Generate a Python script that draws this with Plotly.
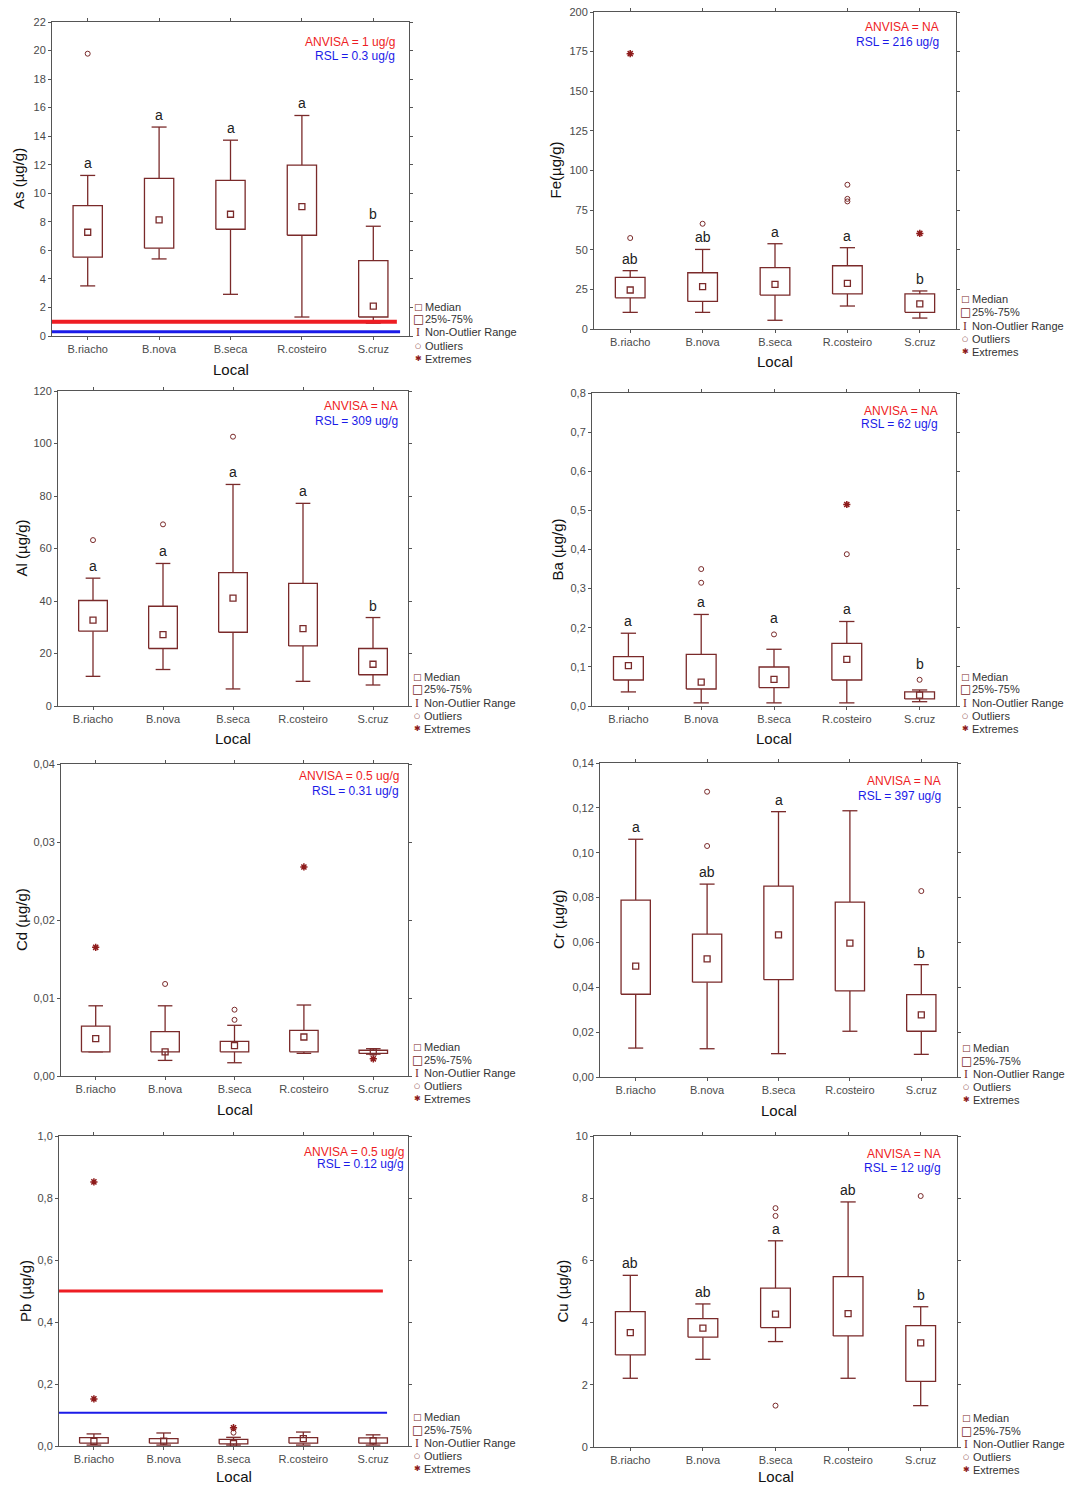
import plotly.graph_objects as go

W, H = 1067, 1486
FONT = "Arial, 'Liberation Sans', sans-serif"
BOX_COLOR = "#7a2a2a"
EXT_COLOR = "#8e1b1b"
FRAME = "#555555"
TICK = "#4a4a4a"
RED = "#ee1d23"
BLUE = "#1b1be8"

CATEGORIES = ["B.riacho", "B.nova", "B.seca", "R.costeiro", "S.cruz"]

# ---------------- As ----------------
AS_Q1 = [5.52, 6.15, 7.48, 7.06, 1.33]
AS_MEDIAN = [7.27, 8.14, 8.53, 9.07, 2.10]
AS_Q3 = [9.14, 11.04, 10.90, 11.97, 5.28]
AS_LOW = [3.51, 5.40, 2.92, 1.33, 0.9]
AS_HIGH = [11.25, 14.64, 13.72, 15.45, 7.69]
AS_OUTLIERS = [[19.78], [], [], [], []]
AS_EXTREMES = [[], [], [], [], []]
AS_LETTERS = ["a", "a", "a", "a", "b"]
AS_LIMITS = [1.0, 0.3]
AS_LIMIT_TEXT = ["ANVISA = 1 ug/g", "RSL = 0.3 ug/g"]

# ---------------- Fe ----------------
FE_Q1 = [19.7, 17.4, 21.4, 22.1, 10.5]
FE_MEDIAN = [24.6, 26.7, 28.2, 28.8, 15.8]
FE_Q3 = [32.6, 35.5, 38.7, 39.9, 22.1]
FE_LOW = [10.5, 10.5, 5.5, 14.5, 6.9]
FE_HIGH = [36.8, 50.2, 53.8, 51.3, 24.0]
FE_OUTLIERS = [[57.4], [66.4], [], [80.5, 82.1, 91.0], []]
FE_EXTREMES = [[173.7], [], [], [], [60.3]]
FE_LETTERS = ["ab", "ab", "a", "a", "b"]
FE_LIMIT_TEXT = ["ANVISA = NA", "RSL = 216 ug/g"]

# ---------------- Al ----------------
AL_Q1 = [28.5, 21.9, 28.1, 22.9, 11.9]
AL_MEDIAN = [32.7, 27.2, 41.1, 29.5, 15.9]
AL_Q3 = [40.2, 38.0, 50.8, 46.7, 21.9]
AL_LOW = [11.3, 13.9, 6.5, 9.4, 8.0]
AL_HIGH = [48.7, 54.3, 84.4, 77.2, 33.7]
AL_OUTLIERS = [[63.2], [69.2], [102.6], [], []]
AL_EXTREMES = [[], [], [], [], []]
AL_LETTERS = ["a", "a", "a", "a", "b"]
AL_LIMIT_TEXT = ["ANVISA = NA", "RSL = 309 ug/g"]

# ---------------- Ba ----------------
BA_Q1 = [0.0665, 0.0435, 0.047, 0.0665, 0.018]
BA_MEDIAN = [0.103, 0.061, 0.068, 0.119, 0.028]
BA_Q3 = [0.126, 0.132, 0.0997, 0.160, 0.036]
BA_LOW = [0.036, 0.008, 0.008, 0.008, 0.011]
BA_HIGH = [0.186, 0.234, 0.145, 0.216, 0.041]
BA_OUTLIERS = [[], [0.315, 0.350], [0.183], [0.388], [0.067]]
BA_EXTREMES = [[], [], [], [0.515], []]
BA_LETTERS = ["a", "a", "a", "a", "b"]
BA_LIMIT_TEXT = ["ANVISA = NA", "RSL = 62 ug/g"]

# ---------------- Cd ----------------
CD_Q1 = [0.0031, 0.0031, 0.0031, 0.0031, 0.0029]
CD_MEDIAN = [0.0048, 0.0031, 0.0039, 0.0050, 0.0031]
CD_Q3 = [0.0064, 0.0057, 0.00445, 0.00585, 0.0033]
CD_LOW = [0.0031, 0.0020, 0.0017, 0.0029, 0.0028]
CD_HIGH = [0.0090, 0.0090, 0.0065, 0.0091, 0.0035]
CD_OUTLIERS = [[], [0.0118], [0.0072, 0.0085], [], []]
CD_EXTREMES = [[0.0165], [], [], [0.0268], [0.0022]]
CD_LETTERS = ["", "", "", "", ""]
CD_LIMIT_TEXT = ["ANVISA = 0.5 ug/g", "RSL = 0.31 ug/g"]

# ---------------- Cr ----------------
CR_Q1 = [0.0369, 0.0423, 0.0434, 0.0384, 0.0204]
CR_MEDIAN = [0.0494, 0.0527, 0.0634, 0.0597, 0.0277]
CR_Q3 = [0.0789, 0.0637, 0.0851, 0.0780, 0.0367]
CR_LOW = [0.0129, 0.0126, 0.0104, 0.0204, 0.0101]
CR_HIGH = [0.1060, 0.0860, 0.1183, 0.1187, 0.0501]
CR_OUTLIERS = [[], [0.103, 0.1272], [], [], [0.0829]]
CR_EXTREMES = [[], [], [], [], []]
CR_LETTERS = ["a", "ab", "a", "", "b"]
CR_LIMIT_TEXT = ["ANVISA = NA", "RSL = 397 ug/g"]

# ---------------- Pb ----------------
PB_Q1 = [0.009, 0.009, 0.007, 0.009, 0.009]
PB_MEDIAN = [0.015, 0.016, 0.008, 0.0235, 0.017]
PB_Q3 = [0.027, 0.0235, 0.0215, 0.027, 0.026]
PB_LOW = [0.003, 0.003, 0.003, 0.003, 0.003]
PB_HIGH = [0.039, 0.042, 0.028, 0.045, 0.036]
PB_OUTLIERS = [[], [], [0.043], [], []]
PB_EXTREMES = [[0.152, 0.852], [], [0.059], [], []]
PB_LETTERS = ["", "", "", "", ""]
PB_LIMITS = [0.5, 0.107]
PB_LIMIT_TEXT = ["ANVISA = 0.5 ug/g", "RSL = 0.12 ug/g"]

# ---------------- Cu ----------------
CU_Q1 = [2.96, 3.53, 3.84, 3.57, 2.11]
CU_MEDIAN = [3.68, 3.82, 4.27, 4.29, 3.35]
CU_Q3 = [4.35, 4.13, 5.11, 5.48, 3.90]
CU_LOW = [2.21, 2.82, 3.39, 2.21, 1.33]
CU_HIGH = [5.52, 4.60, 6.63, 7.88, 4.51]
CU_OUTLIERS = [[], [], [1.33, 7.43, 7.68], [], [8.07]]
CU_EXTREMES = [[], [], [], [], []]
CU_LETTERS = ["ab", "ab", "a", "ab", "b"]
CU_LIMIT_TEXT = ["ANVISA = NA", "RSL = 12 ug/g"]

LEGEND_LABELS = ["Median", "25%-75%", "Non-Outlier Range", "Outliers", "Extremes"]

# panel layout (pixel frame: left, right, top, bottom) and styling
PANELS = [
    dict(ytitle="As (µg/g)", frame=(52, 409, 22, 336), ymax=22, dtick=2, fmt="d", tx=19,
         txt=(-12, 20, 34), stats=(AS_Q1, AS_MEDIAN, AS_Q3, AS_LOW, AS_HIGH, AS_OUTLIERS, AS_EXTREMES, AS_LETTERS),
         ltext=AS_LIMIT_TEXT, limits=AS_LIMITS, lends=(0.966, 0.975), lwidth=(4, 3)),
    dict(ytitle="Fe(µg/g)", frame=(594, 956, 12, 329), ymax=200, dtick=25, fmt="d", tx=555,
         txt=(-15, 15, 30), stats=(FE_Q1, FE_MEDIAN, FE_Q3, FE_LOW, FE_HIGH, FE_OUTLIERS, FE_EXTREMES, FE_LETTERS),
         ltext=FE_LIMIT_TEXT),
    dict(ytitle="Al (µg/g)", frame=(58, 408, 391, 706), ymax=120, dtick=20, fmt="d", tx=21,
         txt=(-8, 15, 30), stats=(AL_Q1, AL_MEDIAN, AL_Q3, AL_LOW, AL_HIGH, AL_OUTLIERS, AL_EXTREMES, AL_LETTERS),
         ltext=AL_LIMIT_TEXT),
    dict(ytitle="Ba (µg/g)", frame=(592, 956, 393, 706), ymax=0.8, dtick=0.1, fmt=".1f", tx=557,
         txt=(-16, 18, 31), stats=(BA_Q1, BA_MEDIAN, BA_Q3, BA_LOW, BA_HIGH, BA_OUTLIERS, BA_EXTREMES, BA_LETTERS),
         ltext=BA_LIMIT_TEXT),
    dict(ytitle="Cd (µg/g)", frame=(61, 408, 764, 1076), ymax=0.04, dtick=0.01, fmt=".2f", tx=21,
         txt=(-7, 12, 27), stats=(CD_Q1, CD_MEDIAN, CD_Q3, CD_LOW, CD_HIGH, CD_OUTLIERS, CD_EXTREMES, CD_LETTERS),
         ltext=CD_LIMIT_TEXT),
    dict(ytitle="Cr (µg/g)", frame=(600, 957, 763, 1077), ymax=0.14, dtick=0.02, fmt=".2f", tx=558,
         txt=(-14, 18, 33), stats=(CR_Q1, CR_MEDIAN, CR_Q3, CR_LOW, CR_HIGH, CR_OUTLIERS, CR_EXTREMES, CR_LETTERS),
         ltext=CR_LIMIT_TEXT),
    dict(ytitle="Pb (µg/g)", frame=(59, 408, 1136, 1446), ymax=1.0, dtick=0.2, fmt=".1f", tx=25,
         txt=(-2, 16, 28), stats=(PB_Q1, PB_MEDIAN, PB_Q3, PB_LOW, PB_HIGH, PB_OUTLIERS, PB_EXTREMES, PB_LETTERS),
         ltext=PB_LIMIT_TEXT, limits=PB_LIMITS, lends=(0.928, 0.94), lwidth=(3, 2)),
    dict(ytitle="Cu (µg/g)", frame=(594, 957, 1136, 1447), ymax=10, dtick=2, fmt="d", tx=562,
         txt=(-14, 18, 32), stats=(CU_Q1, CU_MEDIAN, CU_Q3, CU_LOW, CU_HIGH, CU_OUTLIERS, CU_EXTREMES, CU_LETTERS),
         ltext=CU_LIMIT_TEXT),
]

BOX_HW = 0.205
CAP_HW = 0.105


def px(x):
    return x / W


def py(y):
    return 1 - y / H


fig = go.Figure()
annotations = []
shapes = []
layout_axes = {}

for i, p in enumerate(PANELS):
    n = "" if i == 0 else str(i + 1)
    xn, yn = "x" + n, "y" + n
    L, R, T, B = p["frame"]
    q1, med, q3, low, high, outs, exts, letters = p["stats"]
    cats = list(range(len(CATEGORIES)))

    # boxes (25%-75%)
    bx, by = [], []
    for c in cats:
        bx += [c - BOX_HW, c + BOX_HW, c + BOX_HW, c - BOX_HW, c - BOX_HW, None]
        by += [q1[c], q1[c], q3[c], q3[c], q1[c], None]
    # whiskers (non-outlier range)
    wx, wy = [], []
    for c in cats:
        wx += [c, c, None, c, c, None, c - CAP_HW, c + CAP_HW, None, c - CAP_HW, c + CAP_HW, None]
        wy += [q3[c], high[c], None, q1[c], low[c], None, high[c], high[c], None, low[c], low[c], None]
    ox = [c for c in cats for _ in outs[c]]
    oy = [v for c in cats for v in outs[c]]
    ex = [c for c in cats for _ in exts[c]]
    ey = [v for c in cats for v in exts[c]]

    common = dict(xaxis=xn, yaxis=yn, showlegend=False, hoverinfo="skip")
    fig.add_trace(go.Scatter(x=wx, y=wy, mode="lines", line=dict(color=BOX_COLOR, width=1.3), **common))
    fig.add_trace(go.Scatter(x=bx, y=by, mode="lines", line=dict(color=BOX_COLOR, width=1.3),
                             fill="toself", fillcolor="rgba(255,255,255,1)", **common))
    fig.add_trace(go.Scatter(x=cats, y=med, mode="markers",
                             marker=dict(symbol="square-open", size=6, color=BOX_COLOR, line=dict(width=1.3)),
                             **common))
    fig.add_trace(go.Scatter(x=ox, y=oy, mode="markers",
                             marker=dict(symbol="circle-open", size=5, color=BOX_COLOR, line=dict(width=1)),
                             **common))
    fig.add_trace(go.Scatter(x=ex, y=ey, mode="markers",
                             marker=dict(symbol="asterisk-open", size=6, color=EXT_COLOR, line=dict(width=1.5)),
                             **common))

    axis_font = dict(family=FONT, size=11, color=TICK)
    layout_axes["xaxis" + n] = dict(
        domain=[px(L), px(R)], range=[-0.5, len(CATEGORIES) - 0.5], tickvals=cats, ticktext=CATEGORIES,
        anchor=yn, showline=True, mirror="ticks", linecolor=FRAME, linewidth=1, ticks="outside",
        ticklen=3, tickcolor=FRAME, showgrid=False, zeroline=False, tickfont=axis_font, fixedrange=True,
        automargin=False)
    layout_axes["yaxis" + n] = dict(
        domain=[py(B), py(T)], range=[0, p["ymax"]], tick0=0, dtick=p["dtick"], tickformat=p["fmt"],
        anchor=xn, showline=True, mirror="ticks", linecolor=FRAME, linewidth=1, ticks="outside",
        ticklen=3, tickcolor=FRAME, showgrid=False, zeroline=False, tickfont=axis_font, fixedrange=True,
        automargin=False)

    # significance letters, placed above the upper whisker (or a close outlier)
    ppu = (B - T) / p["ymax"]
    for c in cats:
        if not letters[c]:
            continue
        anchor, extra = high[c], 0
        for o in sorted(outs[c]):
            if o > anchor and (o - anchor) * ppu < 20:
                anchor, extra = o, 4
        annotations.append(dict(x=c, y=anchor, xref=xn, yref=yn, text=letters[c], showarrow=False,
                                yanchor="bottom", yshift=2 + extra,
                                font=dict(family=FONT, size=14, color="#222222")))

    # guideline limit lines
    if "limits" in p:
        for v, col, end, lw in zip(p["limits"], [RED, BLUE], p["lends"], p["lwidth"]):
            shapes.append(dict(type="line", xref=xn + " domain", yref=yn, x0=0, x1=end, y0=v, y1=v,
                               line=dict(color=col, width=lw)))

    # guideline texts
    dx, dy1, dy2 = p["txt"]
    for t, col, dy in zip(p["ltext"], [RED, BLUE], [dy1, dy2]):
        annotations.append(dict(x=px(R + dx), y=py(T + dy), xref="paper", yref="paper", text=t,
                                showarrow=False, xanchor="right", yanchor="middle",
                                font=dict(family=FONT, size=12, color=col)))

    # axis titles
    annotations.append(dict(x=px(p["tx"]), y=py((T + B) / 2), xref="paper", yref="paper", text=p["ytitle"],
                            showarrow=False, textangle=-90, xanchor="center", yanchor="middle",
                            font=dict(family=FONT, size=15, color="#111111")))
    annotations.append(dict(x=px((L + R) / 2), y=py(min(B + 33, H - 10)), xref="paper", yref="paper",
                            text="Local", showarrow=False, xanchor="center", yanchor="middle", borderpad=0,
                            font=dict(family=FONT, size=15, color="#111111")))

    # legend (symbol + text)
    symbols = [("□", 9, BOX_COLOR, "'DejaVu Sans'"), ("□", 12, BOX_COLOR, "'DejaVu Sans'"),
               ("I", 12, BOX_COLOR, "'Liberation Serif', serif"), ("○", 7, BOX_COLOR, "'DejaVu Sans'"),
               ("✱", 8, EXT_COLOR, "'DejaVu Sans'")]
    for k, (lab, (sym, ssz, scol, sfam)) in enumerate(zip(LEGEND_LABELS, symbols)):
        yy = B - 29.5 + 13 * k
        annotations.append(dict(x=px(R + 9), y=py(yy), xref="paper", yref="paper", text=sym,
                                showarrow=False, xanchor="center", yanchor="middle", borderpad=0,
                                font=dict(family=sfam, size=ssz, color=scol)))
        annotations.append(dict(x=px(R + 15), y=py(yy), xref="paper", yref="paper", text=lab,
                                showarrow=False, xanchor="left", yanchor="middle", borderpad=0,
                                font=dict(family=FONT, size=11, color="#333333")))

fig.update_layout(
    width=W, height=H, autosize=False,
    margin=dict(l=0, r=0, t=0, b=0, pad=0, autoexpand=False),
    paper_bgcolor="white", plot_bgcolor="white",
    separators=",.", showlegend=False,
    annotations=annotations, shapes=shapes,
    font=dict(family=FONT),
    **layout_axes,
)

fig.write_html(
    "out.html",
    config={"displayModeBar": False},
    post_script=("document.documentElement.style.margin='0';document.body.style.margin='0';"
                 "document.body.style.padding='0';document.documentElement.style.overflow='hidden';"
                 "document.body.style.overflow='hidden';"),
)
